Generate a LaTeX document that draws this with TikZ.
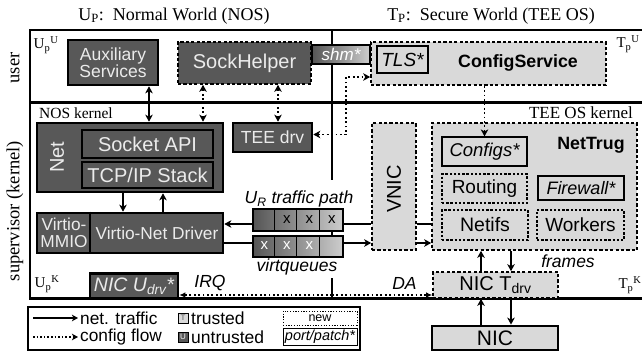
\documentclass[tikz,border=0pt]{standalone}
\usepackage{fontspec}
\setmainfont{Liberation Serif}
\newfontfamily\hv{Liberation Sans}
\usetikzlibrary{arrows.meta}
\newcommand{\fsz}[1]{\fontsize{#1}{#1}\selectfont}
\definecolor{dk}{RGB}{88,88,88}
\definecolor{lt}{RGB}{217,217,217}
\definecolor{tx}{RGB}{235,235,235}
\definecolor{qd}{RGB}{85,85,85}
\definecolor{ql}{RGB}{205,205,205}
\begin{document}
\begin{tikzpicture}[x=1pt,y=-1pt,
  >={Stealth[length=7pt,width=7.5pt,inset=2pt]},
  every node/.style={inner sep=0pt},
  darkbox/.style={draw, line width=2.6pt, fill=dk, text=tx, font=\hv},
  darkdash/.style={draw, line width=1.6pt, dash pattern=on 3.2pt off 2.2pt, fill=dk, text=tx, font=\hv},
  lightdash/.style={draw, line width=1.6pt, dash pattern=on 3.2pt off 2.2pt, fill=lt, font=\hv},
  innersolid/.style={draw, line width=1.2pt, fill=lt, font=\hv},
  innerdash/.style={draw, line width=1.1pt, dash pattern=on 2.4pt off 1.8pt, fill=lt, font=\hv},
  darkinner/.style={draw, line width=1.2pt, fill=dk, text=tx, font=\hv},
  frame/.style={line width=2.5pt},
  tr/.style={line width=2.2pt},
  cf/.style={line width=1.8pt, dash pattern=on 1.8pt off 2.6pt},
  small/.style={-{Latex[length=6pt,width=5.5pt]}},
  lbl/.style={font=\fsz{15}},
  ital/.style={font=\hv\itshape\fsz{17.5}}
]
\useasboundingbox (0,0) rectangle (642,353);

% titles
\node[font=\fsz{18}] (t1) at (174,16) {U\textsubscript{P}:\ \ Normal World (NOS)};
\node[font=\fsz{18}] (t2) at (491,16) {T\textsubscript{P}:\ \ Secure World (TEE OS)};
\node[rotate=90, font=\fsz{18.5}] (luser) at (15,68) {user};
\node[rotate=90, font=\fsz{18.5}] (lsup) at (15,211) {supervisor (kernel)};

% frame
\draw[frame] (642,30) -- (30,30) -- (30,298.5) -- (642,298.5);
\draw[frame] (30,102.5) -- (642,102.5);
\coordinate (dtop) at (332,30);
\coordinate (d1) at (332,180);
\coordinate (d2) at (332,278);
\coordinate (dbot) at (332,298.5);
\draw[line width=2pt] (dtop) -- (d1);
\draw[line width=2pt] (d2) -- (dbot);

% region labels
\node[lbl] (lpu) at (46,45) {U\textsubscript{p}\textsuperscript{U}};
\node[lbl] (ltu) at (628,44) {T\textsubscript{p}\textsuperscript{U}};
\node[lbl] (lpk) at (47,284) {U\textsubscript{p}\textsuperscript{K}};
\node[lbl] (ltk) at (630,285) {T\textsubscript{p}\textsuperscript{K}};
\node[font=\fsz{15.5}] (nosk) at (76,113) {NOS kernel};
\node[font=\fsz{17}] (teek) at (581,113) {TEE OS kernel};

% user space
\node[darkbox, minimum width=90pt, minimum height=45pt, align=center, font=\hv\fontsize{17.5}{17}\selectfont] (aux) at (113,62.5) {Auxiliary\\Services};
\node[darkdash, minimum width=133pt, minimum height=42pt, font=\hv\fsz{20}] (sock) at (244.5,63) {SockHelper};
\node[draw, line width=2.4pt, left color=qd, right color=ql, text=white, minimum width=58pt, minimum height=19pt, font=\hv\itshape\fsz{17}] (shm) at (341,54.5) {shm*};
\node[lightdash, minimum width=235pt, minimum height=43pt] (cfgsvc) at (488.5,63.5) {};
\node[innersolid, minimum width=51pt, minimum height=27pt, font=\hv\itshape\fsz{19}] (tls) at (402.5,59.5) {TLS*};
\node[font=\hv\bfseries\fsz{17.8}] (cstxt) at (518,63) {ConfigService};

% NOS kernel
\node[darkbox, minimum width=186pt, minimum height=69pt] (net) at (130,157.5) {};
\node[rotate=90, text=tx, font=\hv\fsz{20}] (nettxt) at (57,157) {Net};
\node[darkinner, minimum width=131pt, minimum height=28pt, font=\hv\fsz{20}] (sapi) at (147.5,144) {Socket API};
\node[darkinner, minimum width=131pt, minimum height=26pt, font=\hv\fsz{20}] (tcp) at (147.5,175) {TCP/IP Stack};
\node[darkbox, minimum width=79pt, minimum height=29pt, font=\hv\fsz{17.5}] (teedrv) at (272.5,137.5) {TEE drv};
\node[darkbox, minimum width=186pt, minimum height=40pt] (virtio) at (130,233) {};
\draw[line width=2pt] ([xshift=54pt]virtio.north west) -- ([xshift=54pt]virtio.south west);
\node[text=tx, align=center, font=\hv\fontsize{17.3}{17}\selectfont] (mmio) at (64,233) {Virtio-\\MMIO};
\node[text=tx, font=\hv\fsz{17.3}] (vnd) at (157,233) {Virtio-Net Driver};
\node[darkbox, minimum width=88pt, minimum height=24.5pt, font=\hv\itshape\fsz{19.5}] (nicu) at (134,286) {NIC U\textsubscript{drv}*};

% TEE OS kernel
\node[lightdash, minimum width=44pt, minimum height=127pt] (vnic) at (394,186.5) {};
\node[rotate=90, font=\hv\fsz{20}] (vnictxt) at (394,189) {VNIC};
\node[lightdash, minimum width=205pt, minimum height=127pt] (nettrug) at (534.5,186.5) {};
\node[font=\hv\bfseries\fsz{17.8}] (nttxt) at (591,145) {NetTrug};
\node[innersolid, minimum width=85pt, minimum height=29pt, font=\hv\itshape\fsz{18.5}] (configs) at (484.5,151.5) {Configs*};
\node[innerdash, minimum width=85pt, minimum height=29pt, font=\hv\fsz{19}] (routing) at (484.5,188.5) {Routing};
\node[innersolid, minimum width=86pt, minimum height=24pt, font=\hv\itshape\fsz{18}] (firewall) at (581,188) {Firewall*};
\node[innerdash, minimum width=86pt, minimum height=30pt, font=\hv\fsz{19.5}] (netifs) at (485,225) {Netifs};
\node[innerdash, minimum width=87pt, minimum height=30pt, font=\hv\fsz{19}] (workers) at (580.5,225) {Workers};
\node[lightdash, minimum width=125pt, minimum height=26pt, font=\hv\fsz{20}] (nict) at (495.5,285) {NIC T\textsubscript{drv}};
\node[draw, line width=2.8pt, fill=lt, minimum width=126pt, minimum height=24pt, font=\hv\fsz{21}] (nic) at (495,338) {NIC};

% virtqueues
\node[ital] (urtxt) at (299,199) {U\textsubscript{R} traffic path};
\node[ital] (vqtxt) at (297,267) {virtqueues};
\node[draw, line width=2.4pt, left color=qd, right color=ql, minimum width=90pt, minimum height=22pt] (tq) at (298,220) {};
\node[draw, line width=2.4pt, left color=qd, right color=ql, minimum width=90pt, minimum height=21pt] (bq) at (298,246.5) {};
\foreach \i in {1,2,3} {
  \draw[line width=1.2pt] ([xshift=\i*22.5pt]tq.north west) -- ([xshift=\i*22.5pt]tq.south west);
  \draw[line width=1.2pt] ([xshift=\i*22.5pt]bq.north west) -- ([xshift=\i*22.5pt]bq.south west);
}
\foreach \k/\xx in {2/286.75,3/309.25,4/331.75}
  \node[font=\hv\fsz{15}] (tx\k) at (\xx,219.5) {x};
\foreach \k/\xx in {1/264.25,2/286.75,3/309.25}
  \node[font=\hv\fsz{15}, text=white] (bx\k) at (\xx,246) {x};
\draw[line width=2pt] (tq.south -| dtop) -- (bq.north -| dtop);

% traffic connectors
\coordinate (ya) at (0,224);
\coordinate (yb) at (0,243);
\draw[tr,->] (tq.west |- ya) -- (virtio.east |- ya);
\draw[tr] (vnic.west |- ya) -- (tq.east |- ya);
\draw[tr] (nettrug.west |- ya) -- (vnic.east |- ya);
\draw[tr] (virtio.east |- yb) -- (bq.west |- yb);
\draw[tr,->] (bq.east |- yb) -- (vnic.west |- yb);
\draw[tr,->] (vnic.east |- yb) -- (nettrug.west |- yb);

\draw[tr,<->] ([xshift=36pt]aux.south) -- ([xshift=36pt]aux.south |- net.north);
\draw[tr,->] ([xshift=-7pt]net.south) -- ([xshift=-7pt]net.south |- virtio.north);
\draw[tr,<-] ([xshift=33pt]net.south) -- ([xshift=33pt]net.south |- virtio.north);
\draw[tr,->] ([xshift=-14.5pt]nict.north) -- ([xshift=-14.5pt]nict.north |- nettrug.south);
\draw[tr,<-] ([xshift=15.5pt]nict.north) -- ([xshift=15.5pt]nict.north |- nettrug.south);
\draw[tr,<-] ([xshift=-14.5pt]nict.south) -- ([xshift=-14.5pt]nict.south |- nic.north);
\draw[tr,->] ([xshift=15.5pt]nict.south) -- ([xshift=15.5pt]nict.south |- nic.north);
\node[ital] (frtxt) at (568,261) {frames};

% config connectors
\draw[cf,<->] ([xshift=-41.5pt]sock.south) -- ([xshift=-41.5pt]sock.south |- net.north);
\draw[cf,<->] ([xshift=33.5pt]sock.south) -- ([xshift=33.5pt]sock.south |- teedrv.north);
\coordinate (c1) at (346,77);
\draw[cf,<->] ([yshift=3pt]teedrv.east) -- ([yshift=3pt]teedrv.east -| c1) -- (c1) -- (c1 -| cfgsvc.west);
\draw[cf,->] (cfgsvc.south -| configs.north) -- (configs.north);

% IRQ / DA
\coordinate (dq) at (332,295);
\draw[cf, small] (dq) -- (nicu.east |- dq);
\draw[cf, small] (dq) -- (nict.west |- dq);
\node[ital] (irq) at (210,283) {IRQ};
\node[ital] (da) at (404.5,283) {DA};

% legend
\node[draw, line width=1.4pt, minimum width=332pt, minimum height=43pt] (legend) at (194,328.5) {};
\coordinate (l1a) at (33,318);
\coordinate (l1b) at (78,318);
\coordinate (l2a) at (33,337);
\coordinate (l2b) at (78,337);
\draw[line width=1.6pt, -{Stealth[length=6pt,width=6.5pt,inset=1.5pt]}] (l1a) -- (l1b);
\draw[line width=1.6pt, dash pattern=on 1.6pt off 2pt, -{Stealth[length=6pt,width=6.5pt,inset=1.5pt]}] (l2a) -- (l2b);
\node[anchor=west, font=\hv\fsz{17.3}] (ltr) at (80,318) {net. traffic};
\node[anchor=west, font=\hv\fsz{17.3}] (lcf) at (80,337) {config flow};
\node[draw, line width=0.8pt, fill=lt, minimum width=10pt, minimum height=10pt, font=\hv\fsz{8}, text=dk] (lt) at (183,318) {T};
\node[draw, line width=0.8pt, fill=dk, minimum width=10pt, minimum height=10pt, font=\hv\fsz{8}, text=white] (lu) at (183,337) {U};
\node[anchor=west, font=\hv\fsz{17.5}] (ltrust) at (191,318) {trusted};
\node[anchor=west, font=\hv\fsz{17.5}] (luntr) at (191,337) {untrusted};
\node[draw, line width=0.9pt, dash pattern=on 1.2pt off 1.5pt, minimum width=74pt, minimum height=14pt, font=\hv\fsz{12.5}] (lnew) at (320,318) {new};
\node[draw, line width=0.9pt, minimum width=74pt, minimum height=17pt, font=\hv\itshape\fsz{14.5}] (lpp) at (320,336.5) {port/patch*};
\end{tikzpicture}
\end{document}
